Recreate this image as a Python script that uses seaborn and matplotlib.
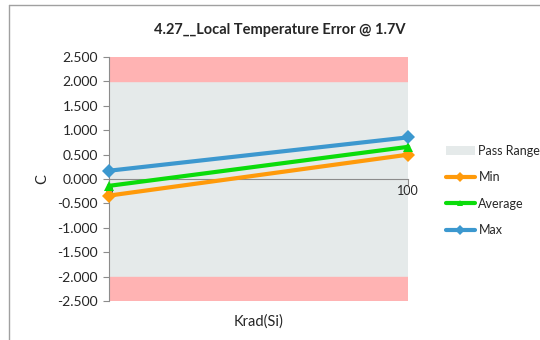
import matplotlib
matplotlib.use("Agg")
import matplotlib.pyplot as plt
import seaborn as sns
import pandas as pd
from matplotlib.patches import Patch
from matplotlib.lines import Line2D

# values
krad = [0, 100]
min_vals = [-0.34, 0.50]
avg_vals = [-0.14, 0.66]
max_vals = [0.17, 0.855]
series_names = ["Min", "Average", "Max"]
series_colors = ["#FF9A0A", "#0ADC0A", "#3C98CF"]
series_markers = ["D", "^", "D"]
yticks = [-2.5, -2.0, -1.5, -1.0, -0.5, 0.0, 0.5, 1.0, 1.5, 2.0, 2.5]

df = pd.DataFrame({
    "Krad(Si)": krad * 3,
    "C": min_vals + avg_vals + max_vals,
    "series": [s for s in series_names for _ in krad],
})

sns.set_style("white")
plt.rcParams["font.family"] = ["Lato", "DejaVu Sans"]

fig = plt.figure(figsize=(5.4, 3.4), dpi=100)
ax = fig.add_axes([0.202, 0.115, 0.554, 0.717])

# frame of the chart area
fig.add_artist(Line2D([0.016, 0.016], [0, 0.985], color="#A0A0A0", lw=1, transform=fig.transFigure))
fig.add_artist(Line2D([0.016, 1.0], [0.985, 0.985], color="#A0A0A0", lw=1, transform=fig.transFigure))

# pass range and fail bands
ax.axhspan(-2.0, 2.0, color="#E5EAEA", zorder=0)
ax.axhspan(2.0, 2.5, color="#FFB3B3", zorder=0)
ax.axhspan(-2.5, -2.0, color="#FFB3B3", zorder=0)

sns.lineplot(data=df, x="Krad(Si)", y="C", hue="series", style="series",
             palette=dict(zip(series_names, series_colors)),
             markers=dict(zip(series_names, series_markers)),
             dashes=False, lw=3, markersize=7, markeredgewidth=0,
             legend=False, ax=ax, zorder=3)
for ln in ax.lines:
    ln.set_clip_on(False)

ax.set_xlim(0, 100)
ax.set_ylim(-2.5, 2.5)
ax.set_yticks(yticks)
ax.set_yticklabels([f"{v:.3f}" for v in yticks])
ax.set_xticks(krad)
ax.set_xticklabels([str(k) for k in krad])

for s in ["top", "right"]:
    ax.spines[s].set_visible(False)
ax.spines["left"].set_color("#8C8C8C")
ax.spines["bottom"].set_color("#8C8C8C")
ax.spines["bottom"].set_position(("data", 0))
ax.spines["bottom"].set_zorder(2)
ax.tick_params(axis="y", left=True, length=4, color="#8C8C8C", labelsize=10, pad=4)
ax.tick_params(axis="x", bottom=True, length=4, color="#8C8C8C", labelsize=9, pad=0)
for t in ax.get_xticklabels():
    t.set_zorder(5)

ax.set_xlabel("Krad(Si)", fontsize=10.5)
ax.xaxis.set_label_coords(0.5, -0.055)
ax.set_ylabel("C", fontsize=10.5, labelpad=6)
ax.set_title("4.27__Local Temperature Error @ 1.7V", fontsize=10.5,
             fontweight="bold", x=0.57, y=1.06)

handles = [Patch(facecolor="#E5EAEA", edgecolor="none", label="Pass Range")]
for n, c, m in zip(series_names, series_colors, series_markers):
    handles.append(Line2D([0], [0], color=c, lw=3, marker=m, markersize=5,
                          markeredgewidth=0, label=n))
fig.legend(handles=handles, loc="center left", bbox_to_anchor=(0.805, 0.44),
           frameon=False, fontsize=9, handlelength=2.3, labelspacing=1.15,
           handletextpad=0.3)

fig.savefig("out.png", dpi=100)
